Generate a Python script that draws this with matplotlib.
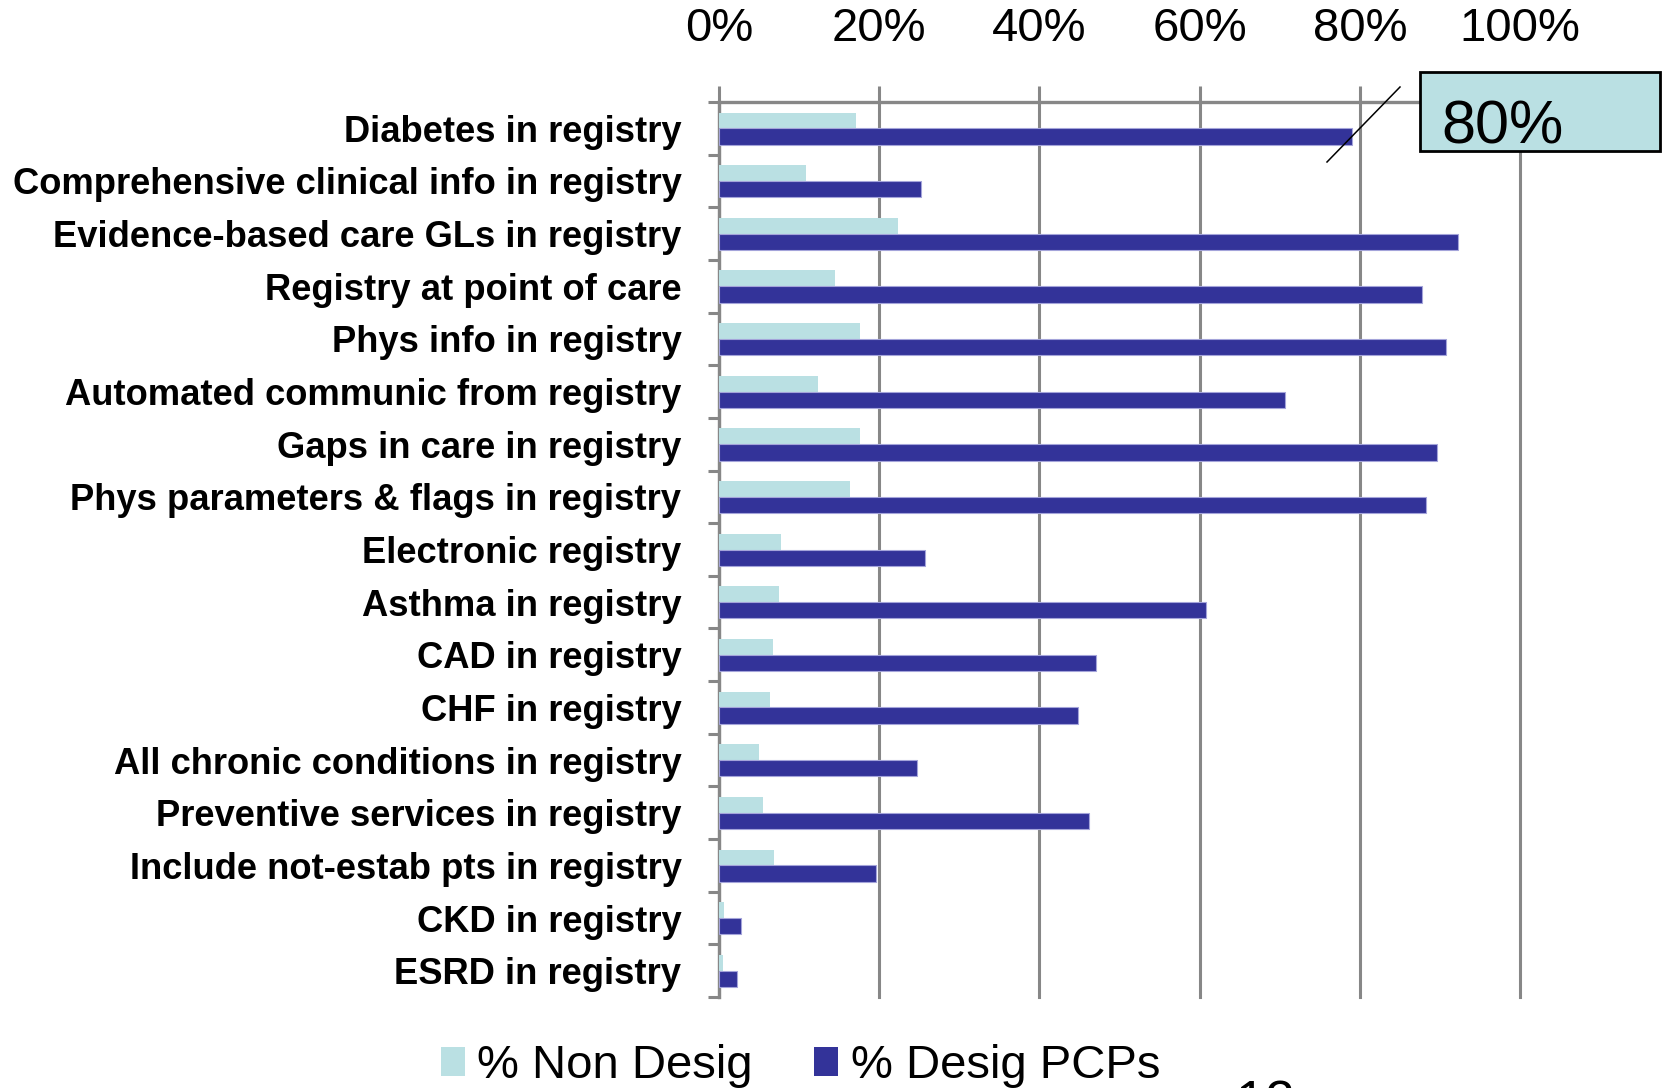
import matplotlib
matplotlib.use("Agg")
import matplotlib.pyplot as plt
import numpy as np
from matplotlib.patches import Patch, Rectangle
from matplotlib.lines import Line2D

categories = [
    "Diabetes in registry",
    "Comprehensive clinical info in registry",
    "Evidence-based care GLs in registry",
    "Registry at point of care",
    "Phys info in registry",
    "Automated communic from registry",
    "Gaps in care in registry",
    "Phys parameters & flags in registry",
    "Electronic registry",
    "Asthma in registry",
    "CAD in registry",
    "CHF in registry",
    "All chronic conditions in registry",
    "Preventive services in registry",
    "Include not-estab pts in registry",
    "CKD in registry",
    "ESRD in registry",
]
non_desig = [17.1, 10.8, 22.4, 14.5, 17.6, 12.3, 17.6, 16.3, 7.8, 7.5, 6.7, 6.4, 5.0, 5.5, 6.9, 0.6, 0.5]
desig_pcps = [79.0, 25.2, 92.3, 87.8, 90.8, 70.7, 89.6, 88.3, 25.7, 60.8, 47.1, 44.8, 24.7, 46.2, 19.6, 2.7, 2.2]
x_ticks = [0, 20, 40, 60, 80, 100]
series_names = ["% Non Desig", "% Desig PCPs"]
callout_text = "80%"
page_number = "12"

LIGHT = "#BAE0E3"
DARK = "#333399"
GRID = "#878787"
FONT = "Liberation Sans"

W, H = 1664, 1088
fig = plt.figure(figsize=(W / 100, H / 100), dpi=100)
ax = fig.add_axes([719 / W, 1 - 997 / H, (1520 - 719) / W, (997 - 102) / H])

y = np.arange(len(categories))
ax.barh(y - 0.15, non_desig, height=0.30, color=LIGHT, edgecolor="none", zorder=3)
ax.barh(y + 0.155, desig_pcps, height=0.31, color=DARK, edgecolor="#A4A4DA", linewidth=0.8, zorder=4)

ax.set_xlim(0, 100)
ax.set_ylim(len(categories) - 0.5, -0.5)

ax.xaxis.tick_top()
ax.set_xticks(x_ticks)
ax.set_xticklabels([f"{v}%" for v in x_ticks], fontsize=34, family=FONT)
ax.tick_params(axis="x", which="major", direction="out", length=11.5, width=2.2,
               color=GRID, pad=25)
ax.grid(axis="x", color=GRID, linewidth=2.2, zorder=1)
for gl in ax.get_xgridlines():
    gl.set_clip_on(False)

ax.set_yticks(y)
ax.set_yticklabels(categories, fontsize=26.2, family=FONT, fontweight="bold")
ax.tick_params(axis="y", which="major", length=0, pad=27)
ax.set_yticks(np.arange(len(categories) + 1) - 0.5, minor=True)
ax.tick_params(axis="y", which="minor", direction="out", length=8, width=2.2, color=GRID)

for s in ["right", "bottom"]:
    ax.spines[s].set_visible(False)
for s in ["left", "top"]:
    ax.spines[s].set_color(GRID)
    ax.spines[s].set_linewidth(2.4)
    ax.spines[s].set_zorder(2)

# legend
handles = [Patch(facecolor=LIGHT, edgecolor="none"), Patch(facecolor=DARK, edgecolor="none")]
fig.legend(handles, series_names, loc="center left", bbox_to_anchor=(441 / W, 1 - 1066 / H),
           ncol=2, frameon=False, prop={"family": FONT, "size": 34},
           handlelength=0.5, handleheight=0.55, handletextpad=0.27, columnspacing=1.3,
           borderpad=0, borderaxespad=0)

# callout box
fig.add_artist(Rectangle((1420 / W, 1 - 151 / H), 240 / W, 79 / H, transform=fig.transFigure,
                         facecolor=LIGHT, edgecolor="black", linewidth=2, zorder=10))
fig.text(1441 / W, 1 - 143 / H, callout_text, fontsize=44, family=FONT,
         ha="left", va="baseline", zorder=11)
fig.add_artist(Line2D([1327 / W, 1400 / W], [1 - 162 / H, 1 - 87 / H], transform=fig.transFigure,
                      color="black", linewidth=1.1, zorder=10))

# partially visible page number
fig.text(1236 / W, 1 - 1118 / H, page_number, fontsize=38, family=FONT, ha="left", va="baseline")

fig.savefig("out.png", dpi=100)
